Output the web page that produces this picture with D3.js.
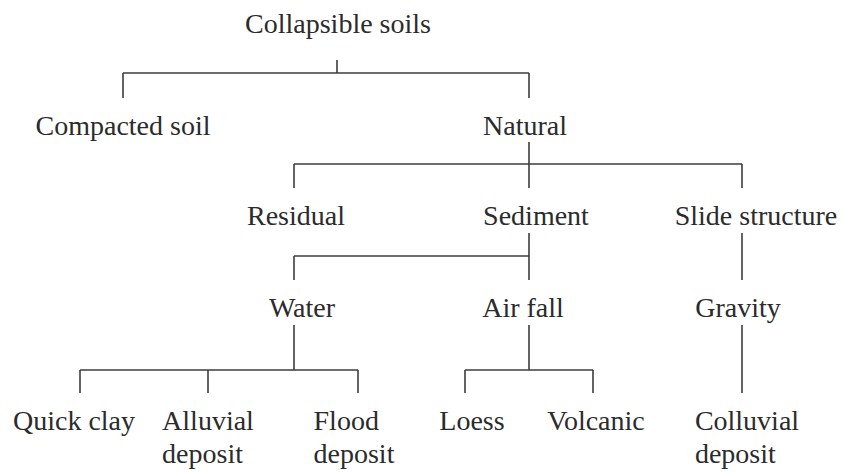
<!DOCTYPE html>
<html>
<head>
<meta charset="utf-8">
<script src="https://cdn.jsdelivr.net/npm/d3@7"></script>
<style>
  html, body { margin: 0; padding: 0; background: #fff; }
  svg { display: block; }
  .label { font-family: "Liberation Serif", "Times New Roman", serif; font-size: 28px; fill: #2b2b2b; }
  .link { fill: none; stroke: #3d3d3d; stroke-width: 1.6; }
</style>
</head>
<body>
<div id="chart"></div>
<script>
// classification tree (child -> parent)
const names = [
  "Collapsible soils",
  "Compacted soil", "Natural",
  "Residual", "Sediment", "Slide structure",
  "Water", "Air fall", "Gravity",
  "Quick clay", "Alluvial\ndeposit", "Flood\ndeposit",
  "Loess", "Volcanic", "Colluvial\ndeposit"
];
const parents = [
  "",
  "Collapsible soils", "Collapsible soils",
  "Natural", "Natural", "Natural",
  "Sediment", "Sediment", "Slide structure",
  "Water", "Water", "Water",
  "Air fall", "Air fall", "Gravity"
];

// layout
const nodeX = {
  "Collapsible soils": 337, "Compacted soil": 123, "Natural": 529,
  "Residual": 294, "Sediment": 529, "Slide structure": 742,
  "Water": 294, "Air fall": 529, "Gravity": 742,
  "Quick clay": 80, "Alluvial\ndeposit": 208, "Flood\ndeposit": 358,
  "Loess": 465, "Volcanic": 593, "Colluvial\ndeposit": 742
};
const labelShift = {
  "Collapsible soils": 1, "Natural": -4, "Residual": 2, "Sediment": 7,
  "Slide structure": 14, "Water": 8, "Air fall": -6, "Gravity": -4,
  "Quick clay": -6, "Flood\ndeposit": -4, "Loess": 7, "Volcanic": 3,
  "Colluvial\ndeposit": 5
};
const baseline = [33, 135, 225, 317, 430];
const stubGap = [27, 7, 8, 8];
const busY = [73, 164, 256, 370];
const dropGap = 37;
const lineHeight = 33;

const width = 843, height = 472;

const root = d3.stratify()
  .id((d) => d.name)
  .parentId((d) => d.parent || null)(
    names.map((name, i) => ({ name, parent: parents[i] }))
  );

const svg = d3.select("#chart")
  .append("svg")
  .attr("width", width)
  .attr("height", height);

// connectors
const segs = [];
root.each((n) => {
  if (!n.children) return;
  const px = nodeX[n.id];
  const top = baseline[n.depth] + stubGap[n.depth];
  const bottom = baseline[n.depth + 1] - dropGap;
  if (n.children.length === 1) {
    segs.push([[px, top], [px, bottom]]);
    return;
  }
  const bus = busY[n.depth];
  const xs = n.children.map((c) => nodeX[c.id]).concat(px);
  segs.push([[px, top], [px, bus]]);
  segs.push([[d3.min(xs), bus], [d3.max(xs), bus]]);
  n.children.forEach((c) => {
    segs.push([[nodeX[c.id], bus], [nodeX[c.id], bottom]]);
  });
});

svg.append("g")
  .selectAll("path")
  .data(segs)
  .join("path")
  .attr("class", "link")
  .attr("d", d3.line());

// labels
const labels = svg.append("g")
  .selectAll("text")
  .data(root.descendants())
  .join("text")
  .attr("class", "label")
  .attr("y", (d) => baseline[d.depth]);

labels.each(function (d) {
  const t = d3.select(this);
  const lines = d.id.split("\n");
  const cx = nodeX[d.id] + (labelShift[d.id] || 0);
  if (lines.length === 1) {
    t.attr("x", cx).attr("text-anchor", "middle").text(lines[0]);
    return;
  }
  const spans = t.selectAll("tspan")
    .data(lines)
    .join("tspan")
    .attr("dy", (l, i) => (i ? lineHeight : 0))
    .text((l) => l);
  const w = d3.max(spans.nodes(), (s) => s.getComputedTextLength());
  spans.attr("x", cx - w / 2);
});
</script>
</body>
</html>
